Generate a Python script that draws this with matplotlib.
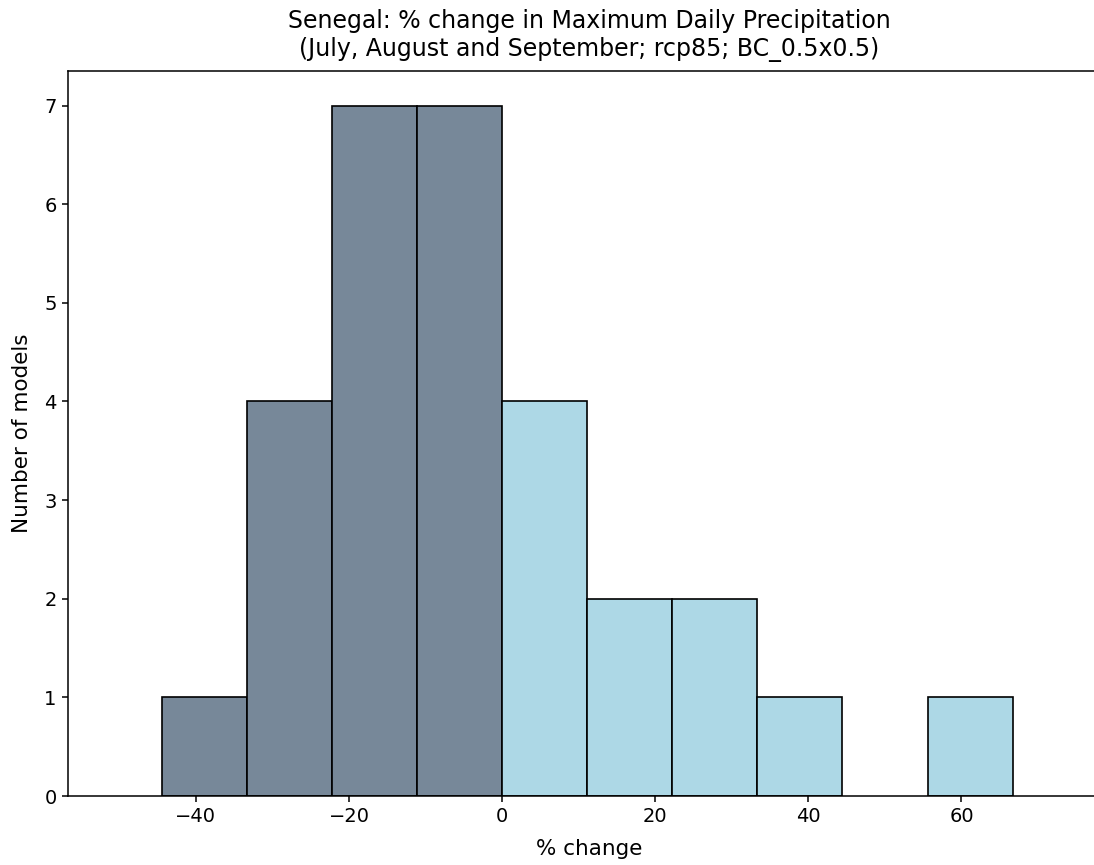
import matplotlib
matplotlib.use("Agg")
import matplotlib.pyplot as plt

bin_edges = [-44.4, -33.3, -22.2, -11.1, 0.0, 11.1, 22.2, 33.3, 44.4, 55.6, 66.7]
counts = [1, 4, 7, 7, 4, 2, 2, 1, 0, 1]
title = "Senegal: % change in Maximum Daily Precipitation\n(July, August and September; rcp85; BC_0.5x0.5)"
xlabel = "% change"
ylabel = "Number of models"
neg_color = "#778899"
pos_color = "#ADD8E6"

fig = plt.figure(figsize=(10.94, 8.65), dpi=100)
ax = fig.add_axes([68/1094, (865-796)/865, (1110-68)/1094, (796-71)/865])

lefts = bin_edges[:-1]
widths = [b - a for a, b in zip(bin_edges[:-1], bin_edges[1:])]
colors = [neg_color if l < 0 else pos_color for l in lefts]
for l, w, c, col in zip(lefts, widths, counts, colors):
    if c > 0:
        ax.bar(l, c, width=w, align="edge", color=col, edgecolor="black", linewidth=1.2)

ax.set_xlim(-56.7, 79.4)
ax.set_ylim(0, 7.35)
ax.set_yticks(range(0, 8))
ax.set_xticks([-40, -20, 0, 20, 40, 60])
ax.tick_params(labelsize=14, length=4.6, width=1.1, pad=3.6)
for s in ax.spines.values():
    s.set_linewidth(1.1)
ax.spines["right"].set_visible(False)
ax.set_xlabel(xlabel, fontsize=15.5, labelpad=9)
ax.set_ylabel(ylabel, fontsize=15.5, labelpad=9)
ax.set_title(title, fontsize=17, pad=11)

fig.savefig("out.png", dpi=100)
